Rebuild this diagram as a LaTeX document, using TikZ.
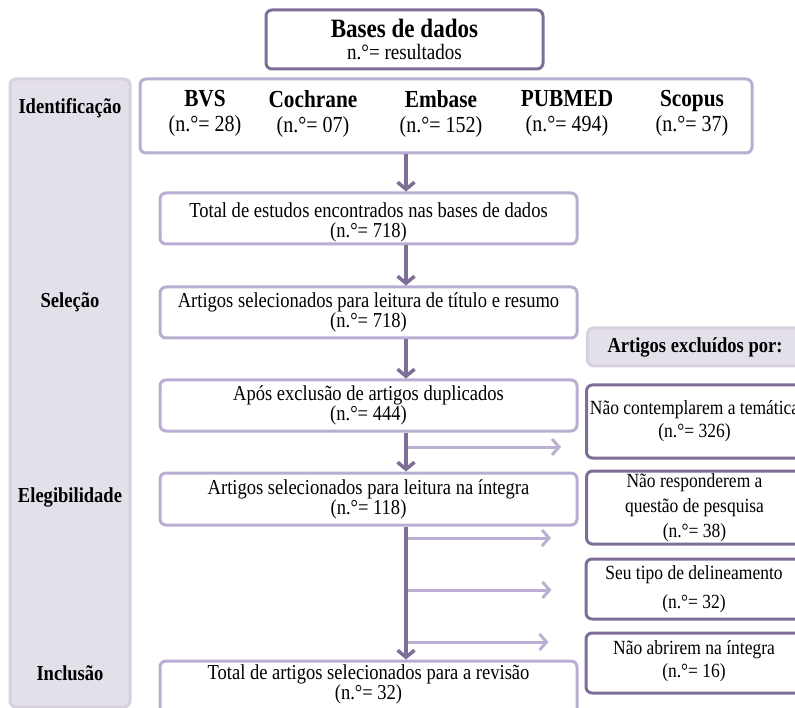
\documentclass[tikz,border=0pt]{standalone}
\usepackage{fontspec}
\setmainfont[FakeStretch=0.87]{Liberation Serif}
\usetikzlibrary{arrows.meta}
\definecolor{darkp}{HTML}{7E6E95}
\definecolor{litep}{HTML}{B9ADD1}
\definecolor{panelfill}{HTML}{E4E0EA}
\definecolor{panelline}{HTML}{D6D1DD}
\definecolor{arrdark}{HTML}{7F6F96}
\definecolor{arrlite}{HTML}{BBAFD3}
\begin{document}
\begin{tikzpicture}[x=1pt,y=-1pt,
  mainfont/.style={font=\fontsize{21.3}{20}\selectfont},
  litebox/.style={draw=litep, line width=3pt, rounded corners=6pt, fill=white, inner sep=0pt, align=center},
  darkbox/.style={draw=darkp, line width=3pt, rounded corners=6pt, fill=white, inner sep=0pt, align=center},
  greybox/.style={draw=panelline, line width=3pt, rounded corners=6pt, fill=panelfill, inner sep=0pt, align=center},
  phase/.style={font=\fontsize{21.3}{20}\selectfont\bfseries, inner sep=0pt},
  dbtext/.style={font=\fontsize{23}{25}\selectfont, align=center, inner sep=0pt},
  varrow/.style={draw=arrdark, line width=4pt, -{Straight Barb[length=7pt,width=17pt,line width=3.5pt]}},
  harrow/.style={draw=arrlite, line width=3pt, -{Straight Barb[length=7pt,width=16pt,line width=3pt]}}
]
\useasboundingbox (0,0) rectangle (795,708);
\clip (0,0) rectangle (795,708);

% left panel
\node[greybox, minimum width=120pt, minimum height=628pt] (panel) at (70,393) {};
\node[phase] (lid) at (70,108) {Identificação};
\node[phase] (lsel) at (70,302) {Seleção};
\node[phase] (lele) at (70,497) {Elegibilidade};
\node[phase] (linc) at (70,673) {Inclusão};

% top box
\node[darkbox, minimum width=277pt, minimum height=59pt, font=\fontsize{21.9}{22}\selectfont] (top) at (404.5,39.5)
  {{\fontsize{26.5}{22}\selectfont\bfseries Bases de dados}\\n.°= resultados};

% databases box
\node[litebox, minimum width=612pt, minimum height=74pt] (db) at (446,116) {};
\node[dbtext] (bvs) at (205,113.5) {{\fontsize{24.5}{25}\selectfont\bfseries BVS}\\(n.°= 28)};
\node[dbtext] (coch) at (313,113.5) {{\fontsize{24.5}{25}\selectfont\bfseries Cochrane}\\(n.°= 07)};
\node[dbtext] (emb) at (441,113.5) {{\fontsize{24.5}{25}\selectfont\bfseries Embase}\\(n.°= 152)};
\node[dbtext] (pub) at (567,113.5) {{\fontsize{24.5}{25}\selectfont\bfseries PUBMED}\\(n.°= 494)};
\node[dbtext] (sco) at (692,113.5) {{\fontsize{24.5}{25}\selectfont\bfseries Scopus}\\(n.°= 37)};

% main column
\node[litebox, minimum width=417pt, minimum height=51pt] (tot) at (368.5,218.5) {};
\node[mainfont, align=center, inner sep=0pt] (tottext) at (368.5,222)
  {Total de estudos encontrados nas bases de dados\\(n.°= 718)};
\node[litebox, mainfont, minimum width=417pt, minimum height=51pt] (sel) at (368.5,312.5)
  {Artigos selecionados para leitura de título e resumo\\(n.°= 718)};
\node[litebox, mainfont, minimum width=417pt, minimum height=51pt] (dup) at (368.5,405.5)
  {Após exclusão de artigos duplicados\\(n.°= 444)};
\node[litebox, mainfont, minimum width=417pt, minimum height=52pt] (int) at (368.5,499)
  {Artigos selecionados para leitura na íntegra\\(n.°= 118)};
\node[litebox, minimum width=417pt, minimum height=70pt] (inc) at (368.5,696) {};
\node[mainfont, align=center, inner sep=0pt] (inctext) at (368.5,684)
  {Total de artigos selecionados para a revisão\\(n.°= 32)};

% exclusion column
\node[greybox, minimum width=215pt, minimum height=38pt, font=\fontsize{21.3}{20}\selectfont\bfseries] (exh) at (695,347)
  {Artigos excluídos por:};
\node[darkbox, minimum width=216pt, minimum height=73pt, font=\fontsize{20.1}{23}\selectfont] (ex1) at (694.5,421.5)
  {Não contemplarem a temática\\(n.°= 326)};
\node[darkbox, minimum width=216pt, minimum height=73pt, font=\fontsize{20.1}{25}\selectfont] (ex2) at (694.5,507.5)
  {Não responderem a\\questão de pesquisa\\(n.°= 38)};
\node[darkbox, minimum width=216pt, minimum height=60pt, font=\fontsize{20.1}{29}\selectfont] (ex3) at (694,589)
  {Seu tipo de delineamento\\(n.°= 32)};
\node[darkbox, minimum width=216pt, minimum height=60pt] (ex4) at (694,663) {};
\node[align=center, inner sep=0pt, font=\fontsize{20.1}{23}\selectfont] (ex4text) at (694,661)
  {Não abrirem na íntegra\\(n.°= 16)};

% connectors
\coordinate (spine) at (406,0);
\coordinate (b1) at (406,447);
\coordinate (b2) at (406,538);
\coordinate (b3) at (406,590);
\coordinate (b4) at (406,642);
\coordinate (e1) at ([xshift=-24pt]ex1.west |- b1);
\coordinate (e2) at ([xshift=-34pt]ex2.west |- b2);
\coordinate (e3) at ([xshift=-33pt]ex3.west |- b3);
\coordinate (e4) at ([xshift=-36pt]ex4.west |- b4);
\draw[harrow] (b1) -- (e1);
\draw[harrow] (b2) -- (e2);
\draw[harrow] (b3) -- (e3);
\draw[harrow] (b4) -- (e4);

\draw[varrow] (db.south -| spine) -- (tot.north -| spine);
\draw[varrow] (tot.south -| spine) -- (sel.north -| spine);
\draw[varrow] (sel.south -| spine) -- (dup.north -| spine);
\draw[varrow] (dup.south -| spine) -- (int.north -| spine);
\draw[varrow] (int.south -| spine) -- (inc.north -| spine);
\end{tikzpicture}
\end{document}
